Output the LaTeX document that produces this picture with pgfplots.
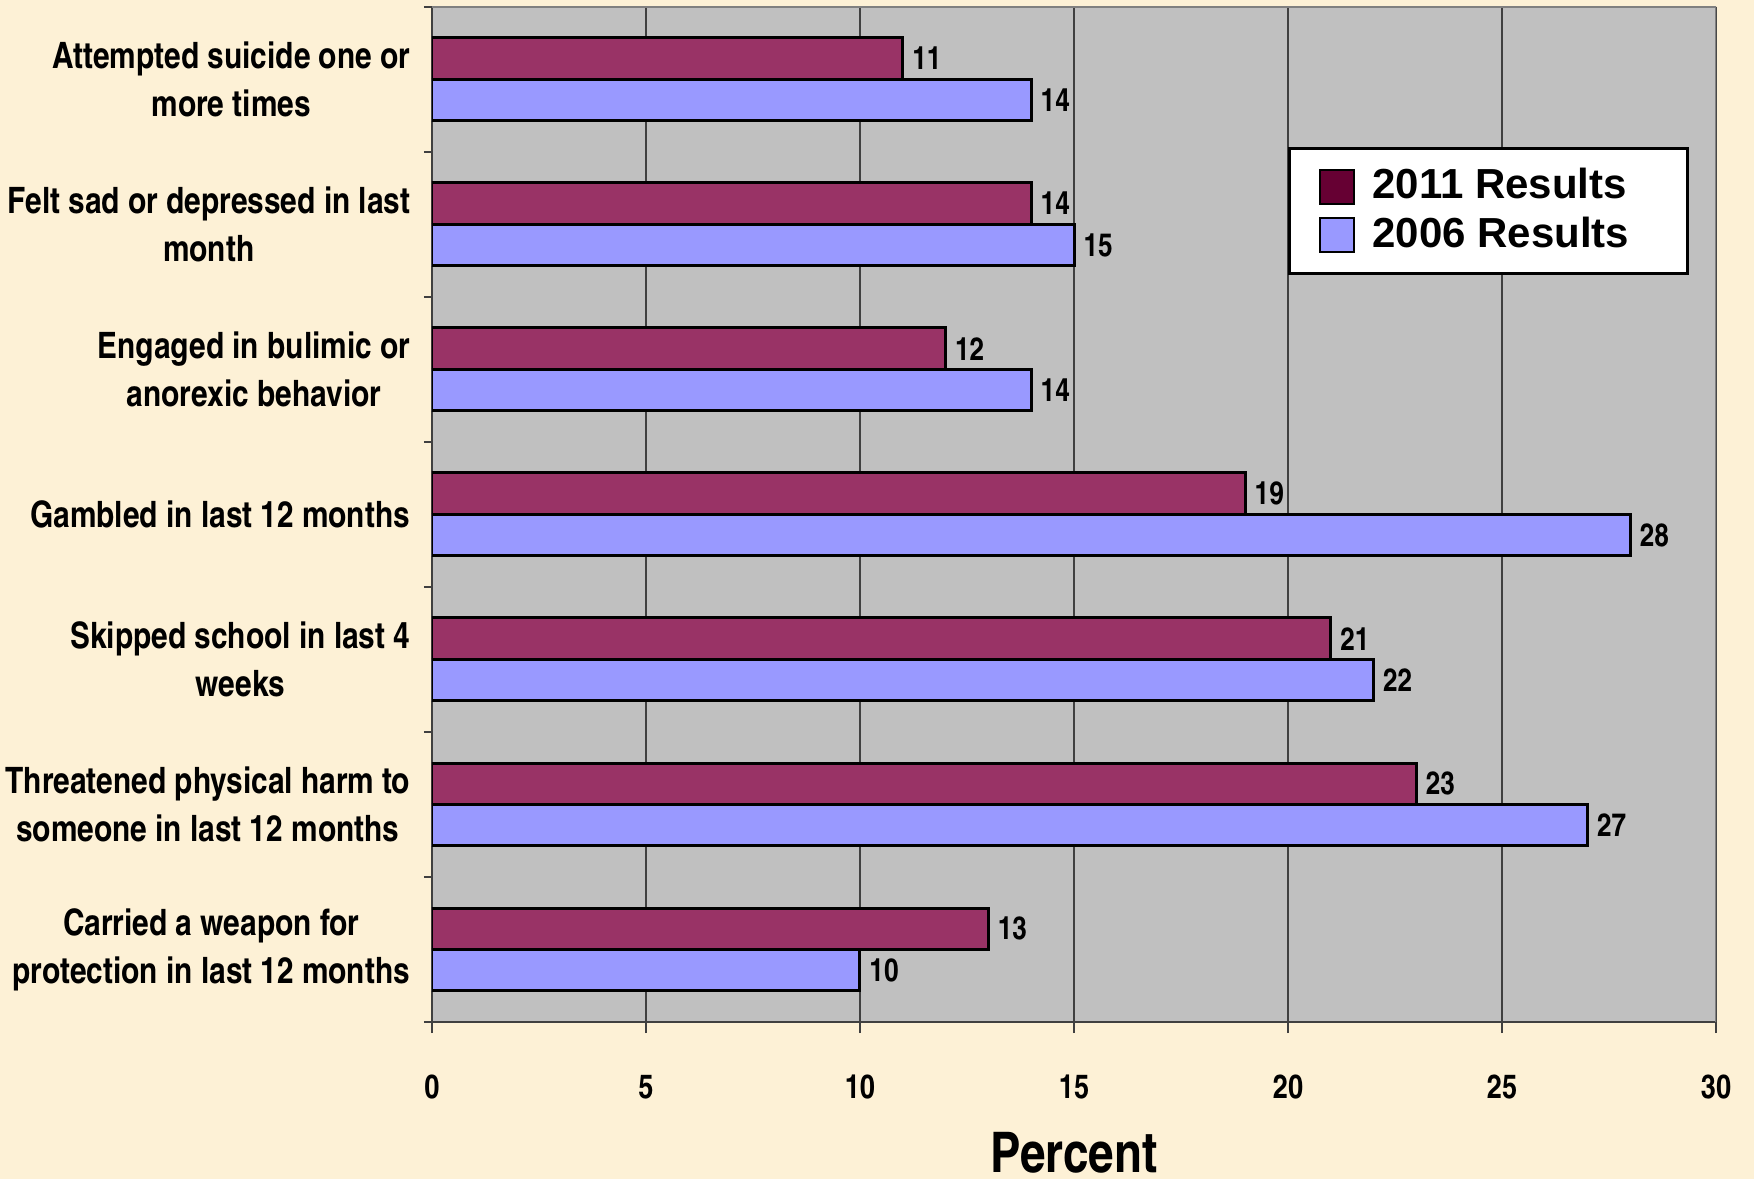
\documentclass[border=0pt]{standalone}
\usepackage{fontspec}
\setmainfont{Liberation Sans}
\newfontfamily\cnfont{texgyreheroscn-bold.otf}
\usepackage{pgfplots}
\usepackage{pgfplotstable}
\pgfplotsset{compat=1.18}

\definecolor{plum}{HTML}{993366}
\definecolor{plumdark}{HTML}{660033}
\definecolor{lavender}{HTML}{9999FF}
\definecolor{plotbg}{HTML}{C0C0C0}
\definecolor{paper}{HTML}{FDF1D6}
\definecolor{gridc}{HTML}{404040}

% one row per question, top to bottom
\pgfplotstableread{
idx r2011 r2006
0   11    14
1   14    15
2   12    14
3   19    28
4   21    22
5   23    27
6   13    10
}\results

\begin{document}
\begin{tikzpicture}
  \fill[paper] (-108pt,-39.25pt) rectangle (330.5pt,255.5pt);
  \begin{axis}[
    at={(0,0)}, anchor=south west,
    scale only axis,
    width=321pt, height=253.8pt,
    xbar, bar width=0.286,
    xmin=0, xmax=30, xtick={0,5,...,30},
    ymin=-0.5, ymax=6.5, y dir=reverse,
    ytick={0,...,6},
    yticklabels={
      {Attempted suicide one or\\more times},
      {Felt sad or depressed in last\\month},
      {Engaged in bulimic or\\anorexic behavior},
      {Gambled in last 12 months},
      {Skipped school in last 4\\weeks},
      {Threatened physical harm to\\someone in last 12 months},
      {Carried a weapon for\\protection in last 12 months}},
    minor ytick={-0.5,0.5,...,6.5},
    axis x line*=bottom, axis y line*=left,
    axis line style={gridc, line width=0.5pt},
    tick align=outside,
    major tick length=2.75pt, minor tick length=2pt,
    major y tick style={draw=none},
    minor y tick style={draw=gridc, line width=0.5pt},
    major x tick style={draw=gridc, line width=0.5pt},
    xmajorgrids, major x grid style={gridc, line width=0.3pt},
    axis background/.style={fill=plotbg},
    /pgf/number format/assume math mode=true,
    xticklabel style={font=\cnfont\fontsize{8.3}{10}\selectfont, anchor=center, yshift=-13.5pt},
    yticklabel style={font=\cnfont\fontsize{9.1}{12}\selectfont, align=center, inner sep=0pt, anchor=east, xshift=-2.5pt},
    xlabel={Percent},
    xlabel style={font=\cnfont\fontsize{14}{16}\selectfont, at={(axis description cs:0.5,0)}, anchor=base, yshift=-37.5pt},
    nodes near coords,
    every node near coord/.append style={font=\cnfont\fontsize{8}{9}\selectfont, anchor=west, inner sep=0pt, xshift=2pt},
    legend style={at={(0.979,0.862)}, anchor=north east, draw=black, line width=0.75pt, fill=white,
      font=\bfseries\fontsize{10.5}{12}\selectfont, cells={anchor=west},
      inner xsep=7.25pt, inner ysep=3pt, row sep=-0.9pt, column sep=2.5pt},
    legend image code/.code={\draw[#1, draw=black, line width=0.5pt] (0pt,-4.25pt) rectangle (8.5pt,4.25pt);},
  ]
    \addplot[fill=plum, draw=black, line width=0.75pt, bar shift=-0.143, forget plot]
      table[x=r2011, y=idx] {\results};
    \addplot[fill=lavender, draw=black, line width=0.75pt, bar shift=0.143, forget plot]
      table[x=r2006, y=idx] {\results};
    \addlegendimage{fill=plumdark}
    \addlegendentry{\makebox[69.5pt][l]{2011 Results}}
    \addlegendimage{fill=lavender}
    \addlegendentry{\makebox[69.5pt][l]{2006 Results}}
    \draw[gray, line width=0.6pt] (rel axis cs:0,1) -- (rel axis cs:1,1) -- (rel axis cs:1,0);
  \end{axis}
  \pgfresetboundingbox
  \useasboundingbox (-108pt,-39.25pt) rectangle (330.5pt,255.5pt);
\end{tikzpicture}
\end{document}
